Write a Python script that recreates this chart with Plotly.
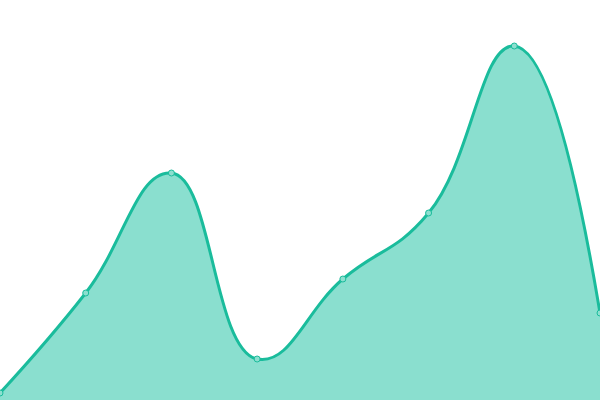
import plotly.graph_objects as go

# valores (eje y de 0 a 400)
puntos = [0, 1, 2, 3, 4, 5, 6, 7]
valores = [7, 107, 227, 41, 121, 187, 354, 87]

fig = go.Figure()
fig.add_trace(go.Scatter(
    x=puntos,
    y=valores,
    mode="lines+markers",
    line=dict(color="#1abc9c", width=3, shape="spline", smoothing=1.3),
    marker=dict(size=6, color="#8ddfcf", line=dict(color="#1abc9c", width=1)),
    fill="tozeroy",
    fillcolor="#8adfcf",
    hoverinfo="skip",
))

fig.update_xaxes(visible=False, range=[0, 7])
fig.update_yaxes(visible=False, range=[0, 400])
fig.update_layout(
    width=600,
    height=400,
    margin=dict(l=0, r=0, t=0, b=0),
    showlegend=False,
    plot_bgcolor="white",
    paper_bgcolor="white",
)

# sin margen del body para que el gráfico ocupe toda la ventana
fig.write_html(
    "out.html",
    config={"displayModeBar": False},
    post_script="document.body.style.margin='0';",
)
